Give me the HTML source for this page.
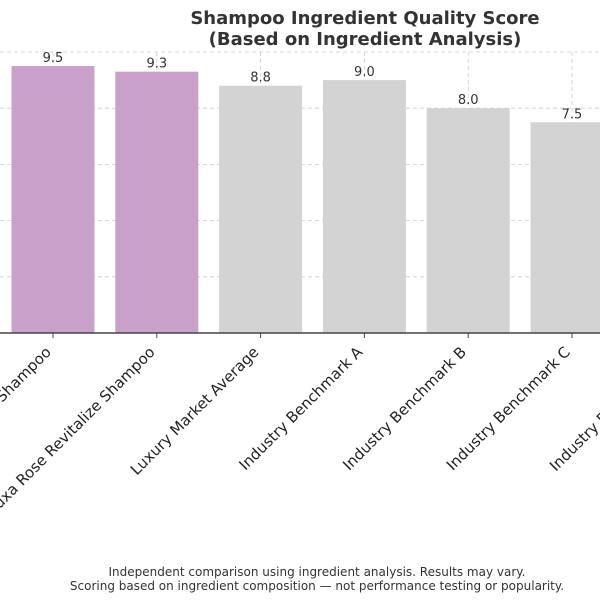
<!DOCTYPE html>
<html><head><meta charset="utf-8"><style>
body{margin:0;background:#fff}
svg{font-family:"DejaVu Sans","Liberation Sans",sans-serif}
</style></head><body>
<svg id="chart" width="600" height="600" viewBox="0 0 600 600" xmlns="http://www.w3.org/2000/svg">
<text x="365" y="24" text-anchor="middle" font-size="18" font-weight="bold" fill="#333">Shampoo Ingredient Quality Score</text>
<text x="365" y="45" text-anchor="middle" font-size="18" font-weight="bold" fill="#333">(Based on Ingredient Analysis)</text>
<g id="grid"></g><g id="bars"></g><g id="labels"></g>
<line x1="0" y1="333" x2="600" y2="333" stroke="#444" stroke-width="1.5"/>
<text x="317" y="576" text-anchor="middle" font-size="12" fill="#333">Independent comparison using ingredient analysis. Results may vary.</text>
<text x="317" y="590" text-anchor="middle" font-size="12" fill="#333">Scoring based on ingredient composition — not performance testing or popularity.</text>
</svg>
<script>
const categories=["Signature Botanical Shampoo","Ecoluxa Rose Revitalize Shampoo","Luxury Market Average","Industry Benchmark A","Industry Benchmark B","Industry Benchmark C","Industry Benchmark D"];
const scores=[9.5,9.3,8.8,9.0,8.0,7.5,7.0];
const highlighted=[true,true,false,false,false,false,false];
const yTicks=[0,2,4,6,8,10];
const NS="http://www.w3.org/2000/svg";
const x0=53,step=103.8,bw=83,base=333,pxPerUnit=28.1;
const xs=i=>x0+i*step;
const ys=v=>base-v*pxPerUnit;
function mk(t,a,p){const e=document.createElementNS(NS,t);for(const k in a)e.setAttribute(k,a[k]);p.appendChild(e);return e;}
const grid=document.getElementById('grid'),bars=document.getElementById('bars'),labels=document.getElementById('labels');
yTicks.forEach(v=>{if(v===0)return;const l=mk('line',{x1:0,x2:600,y1:ys(v),y2:ys(v),stroke:'#ccc','stroke-dasharray':'4,3','stroke-width':0.8},grid);

});
categories.forEach((c,i)=>{
 const x=xs(i);
 const g=mk('line',{x1:x,x2:x,y1:ys(10),y2:base,stroke:'#ccc','stroke-dasharray':'4,3','stroke-width':0.8},grid);
 
 
 const r=mk('rect',{x:x-bw/2,y:ys(scores[i]),width:bw,height:base-ys(scores[i]),fill:highlighted[i]?'#c8a0c8':'#d3d3d3'},bars);
 
 
 const v=mk('text',{x:x,y:ys(scores[i])-4,'text-anchor':'middle','font-size':13,fill:'#333'},bars);
 v.textContent=scores[i].toFixed(1);
 
 
 const tk=mk('line',{x1:x,x2:x,y1:base,y2:base+5,stroke:'#444'},labels);
 
 
 const lx=x-1,ly=base+20;
 const t=mk('text',{x:lx,y:ly,'text-anchor':'end','font-size':15,fill:'#222',transform:`rotate(-45 ${lx} ${ly})`},labels);
 t.textContent=c;
 
 
});
</script>
</body></html>
